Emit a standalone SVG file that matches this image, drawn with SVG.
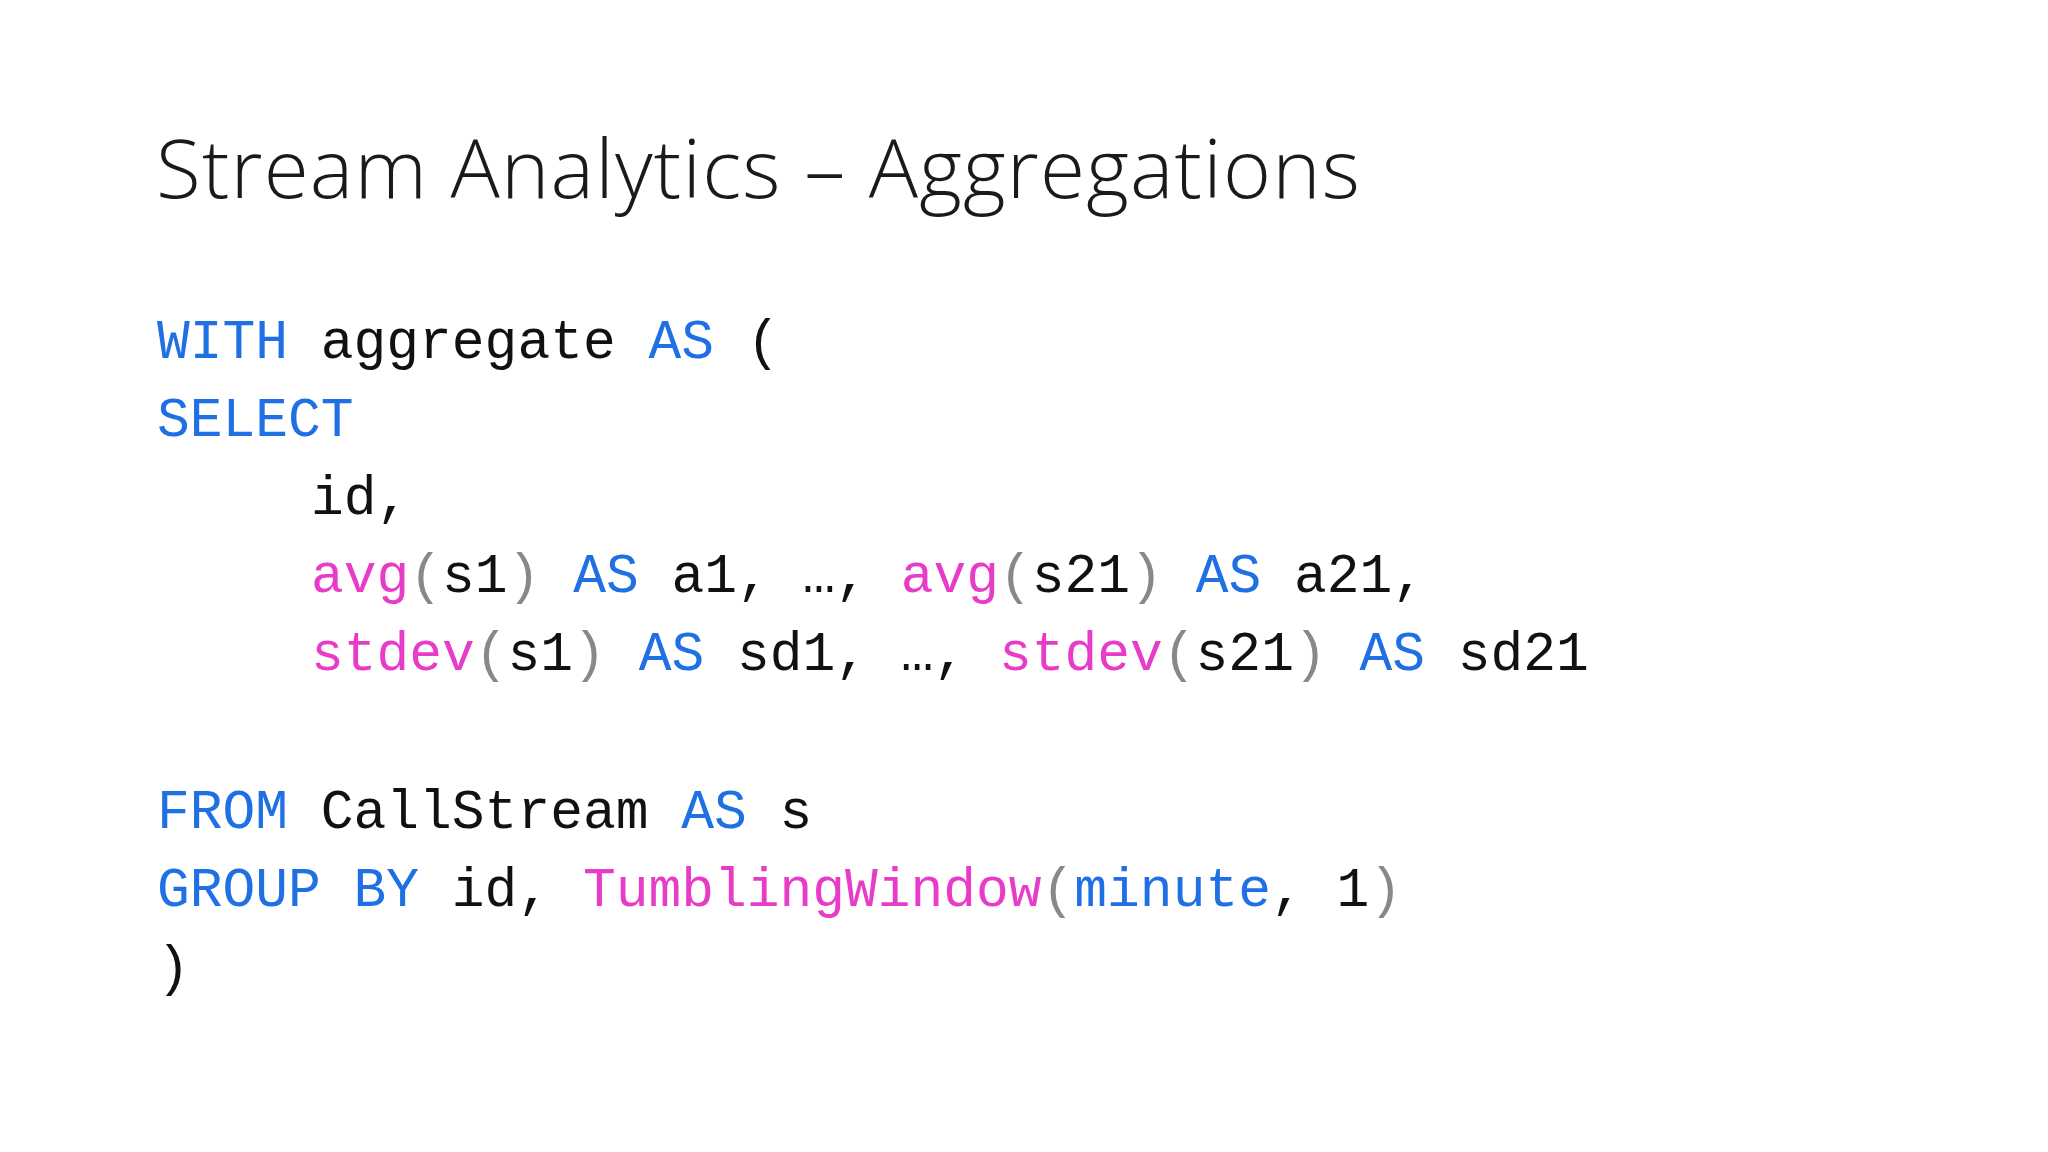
<svg xmlns="http://www.w3.org/2000/svg" width="2048" height="1152" viewBox="0 0 2048 1152">
<style>
.t{font-family:"Open Sans","Liberation Sans",sans-serif;font-weight:300;font-size:82px;fill:#1a1a1a}
.c{font-family:"Liberation Mono","DejaVu Sans Mono",monospace;font-size:54.6px;fill:#111}
.k{fill:#1f6fe5}.f{fill:#e83cc8}.p{fill:#888}
</style>
<rect width="2048" height="1152" fill="#fff"/>
<g id="title"><text class="t" x="156" y="198" textLength="1204" lengthAdjust="spacing">Stream Analytics – Aggregations</text></g>
<g id="code" xml:space="preserve">
<text class="c" x="157" y="358"><tspan class="k">WITH</tspan> aggregate <tspan class="k">AS</tspan> (</text>
<text class="c" x="157" y="436"><tspan class="k">SELECT</tspan></text>
<text class="c" x="311" y="514">id,</text>
<text class="c" x="311" y="592"><tspan class="f">avg</tspan><tspan class="p">(</tspan>s1<tspan class="p">)</tspan> <tspan class="k">AS</tspan> a1, …, <tspan class="f">avg</tspan><tspan class="p">(</tspan>s21<tspan class="p">)</tspan> <tspan class="k">AS</tspan> a21,</text>
<text class="c" x="311" y="670"><tspan class="f">stdev</tspan><tspan class="p">(</tspan>s1<tspan class="p">)</tspan> <tspan class="k">AS</tspan> sd1, …, <tspan class="f">stdev</tspan><tspan class="p">(</tspan>s21<tspan class="p">)</tspan> <tspan class="k">AS</tspan> sd21</text>
<text class="c" x="157" y="828"><tspan class="k">FROM</tspan> CallStream <tspan class="k">AS</tspan> s</text>
<text class="c" x="157" y="906"><tspan class="k">GROUP BY</tspan> id, <tspan class="f">TumblingWindow</tspan><tspan class="p">(</tspan><tspan class="k">minute</tspan>, 1<tspan class="p">)</tspan></text>
<text class="c" x="157" y="984">)</text>
</g>
</svg>
